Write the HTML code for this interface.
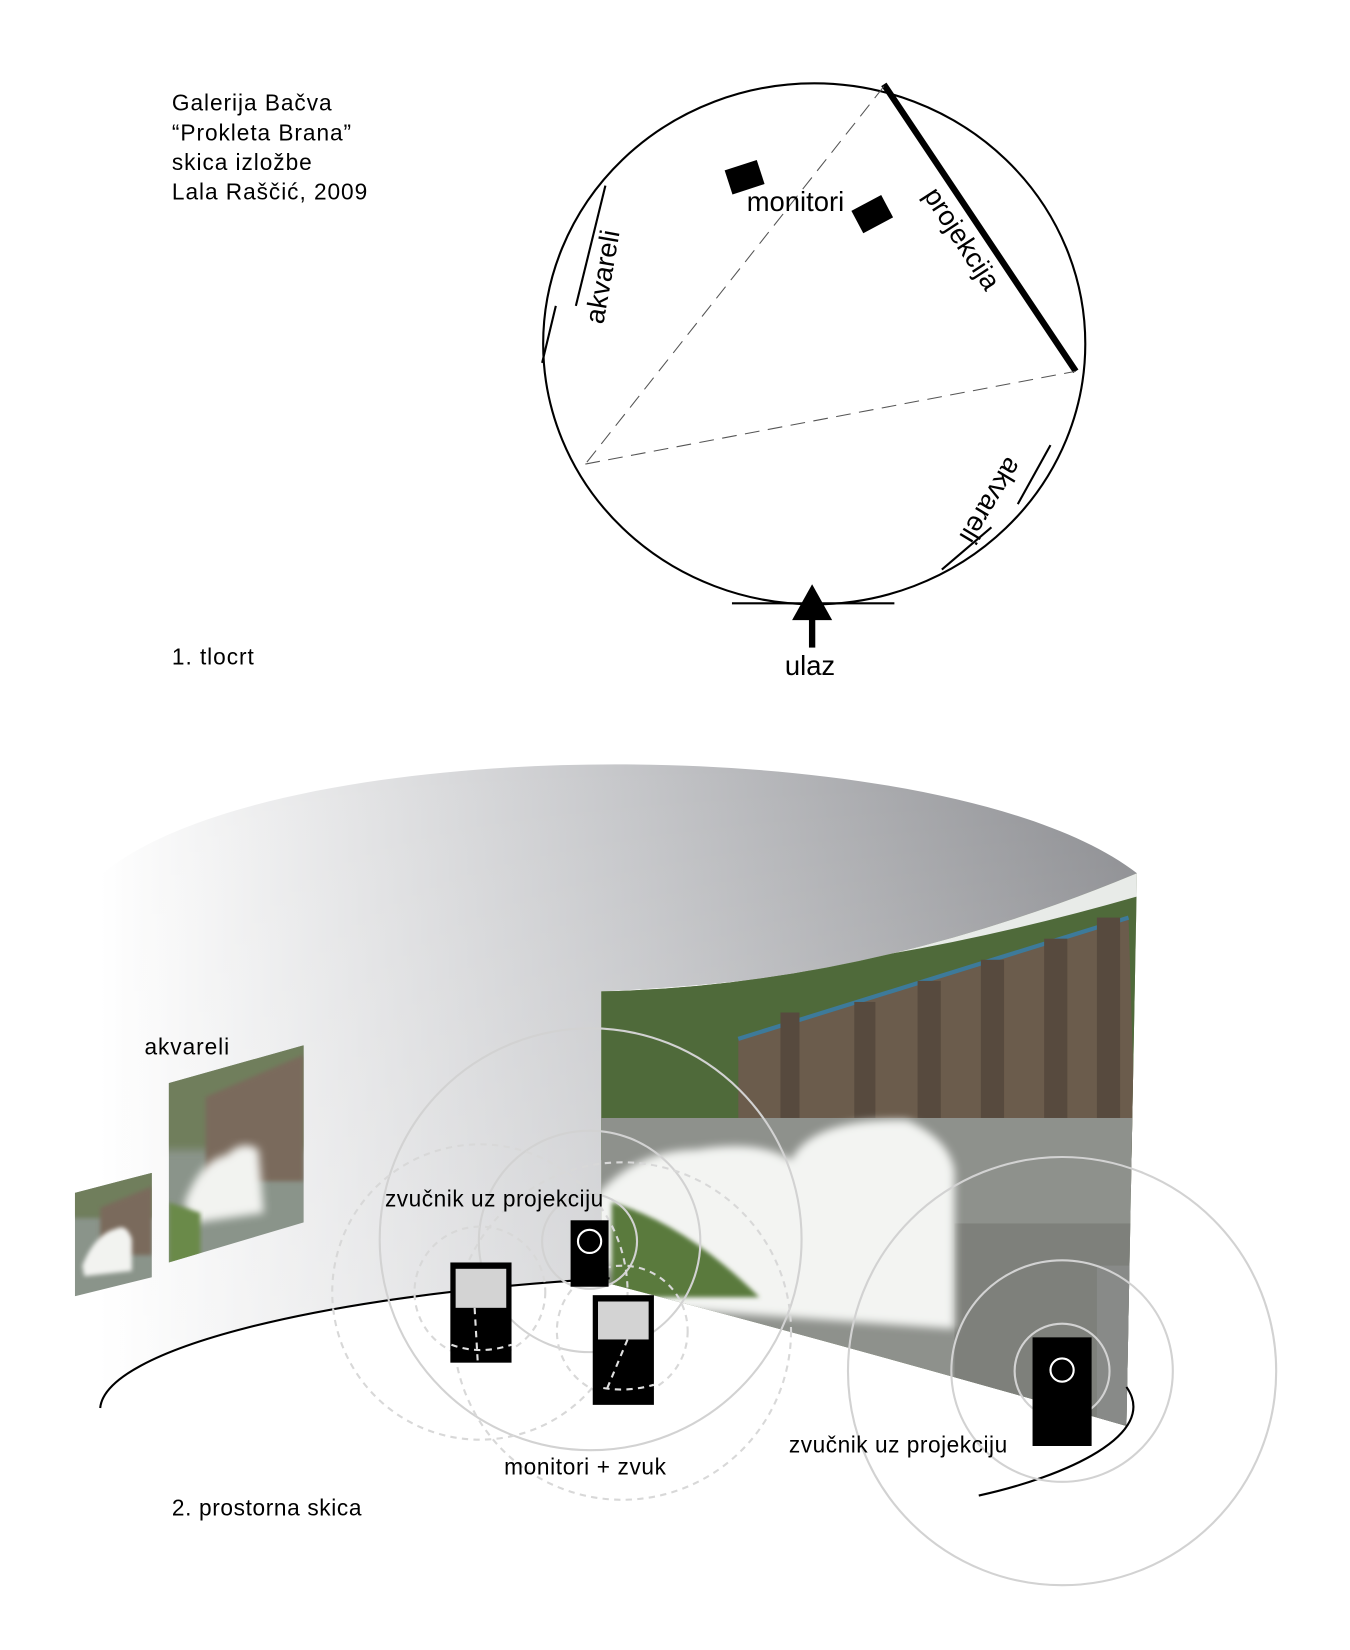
<!DOCTYPE html>
<html><head><meta charset="utf-8"><style>
html,body{margin:0;padding:0;background:#fff;}
svg{display:block;}
text{font-family:"Liberation Sans",Arial,sans-serif;fill:#000;}
</style></head><body>
<svg width="1350" height="1650" viewBox="0 0 1350 1650" xmlns="http://www.w3.org/2000/svg">
<defs>
<linearGradient id="wall" x1="95" y1="0" x2="1078" y2="0" gradientUnits="userSpaceOnUse">
<stop offset="0" stop-color="#ffffff"/>
<stop offset="0.5" stop-color="#c6c7ca"/>
<stop offset="1" stop-color="#8b8c90"/>
</linearGradient>
<linearGradient id="wallv" x1="0" y1="720" x2="0" y2="1335" gradientUnits="userSpaceOnUse">
<stop offset="0" stop-color="#ffffff" stop-opacity="0"/>
<stop offset="1" stop-color="#ffffff" stop-opacity="0.35"/>
</linearGradient>
<clipPath id="photo"><path d="M570,940 Q820,935 1078,828 L1068,1352 Q800,1275 570,1215 Z"/></clipPath>
<clipPath id="wc1"><path d="M160,1027 L288,991 L288,1159 L160,1197 Z"/></clipPath>
<clipPath id="wc2"><path d="M71,1131 L144,1112 L144,1211 L71,1229 Z"/></clipPath>
<filter id="blur"><feGaussianBlur stdDeviation="4"/></filter>
<filter id="blur2"><feGaussianBlur stdDeviation="2"/></filter>
</defs>
<g transform="scale(1.0547)">
<text x="163" y="105" font-size="21.5" letter-spacing="0.9">Galerija Bačva</text>
<text x="163" y="133" font-size="21.5" letter-spacing="0.9">“Prokleta Brana”</text>
<text x="163" y="161" font-size="21.5" letter-spacing="0.9">skica izložbe</text>
<text x="163" y="189" font-size="21.5" letter-spacing="0.9">Lala Raščić, 2009</text>
<text x="163" y="630" font-size="21.5" letter-spacing="0.9">1. tlocrt</text>

<ellipse cx="772" cy="326" rx="257" ry="247" fill="none" stroke="#000" stroke-width="2"/>
<line x1="838" y1="80" x2="1020" y2="352" stroke="#000" stroke-width="6"/>
<g stroke="#555" stroke-width="1" stroke-dasharray="14,8" fill="none">
<line x1="838" y1="82" x2="555" y2="440"/>
<line x1="555" y1="440" x2="1020" y2="352"/>
</g>
<rect x="690" y="156" width="32" height="24" transform="rotate(-18 706 168)"/>
<rect x="811" y="191" width="32" height="24" transform="rotate(-28 827 203)"/>
<text x="708" y="200" font-size="26">monitori</text>
<text x="0" y="0" font-size="26" transform="translate(875,185) rotate(57)">projekcija</text>
<text x="0" y="0" font-size="26" transform="translate(572,308) rotate(-80)">akvareli</text>
<text x="0" y="0" font-size="26" transform="translate(955,432) rotate(121)">akvareli</text>
<g stroke="#000" stroke-width="2" fill="none">
<path d="M574,176 L546,290"/>
<path d="M527,290 L514,344"/>
<path d="M996,422 L965,478"/>
<path d="M940,500 L893,540"/>
<line x1="694" y1="572" x2="848" y2="572"/>
</g>
<path d="M770,554 L751,588 L789,588 Z" fill="#000"/>
<rect x="767" y="586" width="6" height="28" fill="#000"/>
<text x="768" y="640" font-size="26" text-anchor="middle">ulaz</text>

<path d="M95,830 C260,690 900,690 1078,828 Q900,925 570,940 L570,1213 C300,1230 100,1280 95,1335 Z" fill="url(#wall)"/>
<path d="M95,830 C260,690 900,690 1078,828 Q900,925 570,940 L570,1213 C300,1230 100,1280 95,1335 Z" fill="url(#wallv)"/>

<g clip-path="url(#photo)">
<rect x="560" y="820" width="530" height="540" fill="#6d7a55"/>
<rect x="560" y="820" width="530" height="100" fill="#e8ebe8"/>
<path d="M560,930 Q800,930 1078,850 L1078,1100 L560,1100 Z" fill="#4f6a3a"/>
<path d="M700,985 L1070,870 L1078,1130 L700,1120 Z" fill="#6b5c4c"/>
<path d="M700,985 L1070,870" stroke="#3d7a9a" stroke-width="4"/>
<g fill="#574a3e"><rect x="740" y="960" width="18" height="120"/><rect x="810" y="950" width="20" height="120"/><rect x="870" y="930" width="22" height="140"/><rect x="930" y="910" width="22" height="160"/><rect x="990" y="890" width="22" height="180"/><rect x="1040" y="870" width="22" height="200"/></g>
<rect x="900" y="1080" width="170" height="90" fill="#2e2a26"/>
<rect x="560" y="1060" width="520" height="300" fill="#8e918c"/>
<rect x="905" y="1160" width="170" height="200" fill="#7e807b"/>
<path d="M560,1140 Q600,1090 660,1090 Q720,1080 750,1100 Q770,1060 860,1062 Q900,1080 905,1110 L905,1260 L620,1240 Q580,1200 560,1190 Z" fill="#f3f4f2" filter="url(#blur)"/>
<path d="M580,1140 Q650,1160 720,1230 L580,1230 Z" fill="#5a7a3e" filter="url(#blur2)"/>
<rect x="1040" y="1200" width="40" height="150" fill="#888a88"/>
</g>

<g clip-path="url(#wc1)">
<rect x="150" y="980" width="150" height="230" fill="#8a948a"/>
<rect x="150" y="980" width="150" height="110" fill="#6f7e5c" filter="url(#blur)"/>
<path d="M195,1040 L288,1000 L288,1120 L195,1120 Z" fill="#7a6a5c" filter="url(#blur2)"/>
<path d="M175,1140 Q190,1100 215,1095 Q230,1080 245,1090 L250,1150 L180,1160 Z" fill="#f2f3f0" filter="url(#blur)"/>
<path d="M160,1140 L190,1150 L190,1200 L160,1200 Z" fill="#6b8a4a" filter="url(#blur2)"/>
</g>
<g clip-path="url(#wc2)">
<rect x="65" y="1105" width="85" height="130" fill="#8a948a"/>
<rect x="65" y="1105" width="85" height="50" fill="#6f7e5c" filter="url(#blur2)"/>
<path d="M95,1145 L144,1125 L144,1190 L95,1190 Z" fill="#7a6a5c" filter="url(#blur2)"/>
<path d="M78,1200 Q90,1170 110,1165 Q120,1160 125,1175 L125,1205 L80,1210 Z" fill="#f2f3f0" filter="url(#blur2)"/>
</g>
<text x="137" y="1000" font-size="21.5" letter-spacing="0.9">akvareli</text>

<path d="M95,1335 C100,1280 300,1228 578,1212" fill="none" stroke="#000" stroke-width="2"/>
<path d="M928,1418 C1010,1400 1100,1360 1068,1315" fill="none" stroke="#000" stroke-width="2"/>

<g fill="none" stroke="#d2d2d2" stroke-width="2">
<circle cx="560" cy="1175" r="200"/>
<circle cx="559" cy="1177" r="105"/>
<circle cx="559" cy="1177" r="45"/>
<circle cx="1007" cy="1300" r="203"/>
<circle cx="1007" cy="1300" r="105"/>
<circle cx="1007" cy="1300" r="45"/>
</g>
<g fill="none" stroke="#d8d8d8" stroke-width="2" stroke-dasharray="6,5">
<circle cx="455" cy="1225" r="140"/>
<circle cx="455" cy="1225" r="62"/>
<circle cx="590" cy="1262" r="160"/>
<circle cx="590" cy="1262" r="62"/>
</g>

<rect x="541" y="1157" width="36" height="63" fill="#000"/>
<circle cx="559" cy="1177" r="11" fill="none" stroke="#fff" stroke-width="2"/>
<rect x="427" y="1197" width="58" height="95" fill="#000"/>
<rect x="432" y="1203" width="48" height="37" fill="#d3d3d3"/>
<rect x="562" y="1228" width="58" height="104" fill="#000"/>
<rect x="567" y="1234" width="48" height="36" fill="#d3d3d3"/>
<g fill="none" stroke="#e0e0e0" stroke-width="2" stroke-dasharray="6,5">
<path d="M450,1240 L453,1292"/>
<path d="M428,1275 Q455,1285 485,1275"/>
<path d="M595,1270 L575,1318"/>
<path d="M572,1316 Q595,1320 620,1313"/>
</g>
<rect x="979" y="1268" width="56" height="103" fill="#000"/>
<circle cx="1007" cy="1299" r="11" fill="none" stroke="#fff" stroke-width="2"/>

<text x="365" y="1144" font-size="21.5" letter-spacing="0.5">zvučnik uz projekciju</text>
<text x="748" y="1377" font-size="21.5" letter-spacing="0.5">zvučnik uz projekciju</text>
<text x="478" y="1398" font-size="21.5" letter-spacing="0.6">monitori + zvuk</text>
<text x="163" y="1437" font-size="21.5" letter-spacing="0.6">2. prostorna skica</text>
</g>
</svg>
</body></html>
